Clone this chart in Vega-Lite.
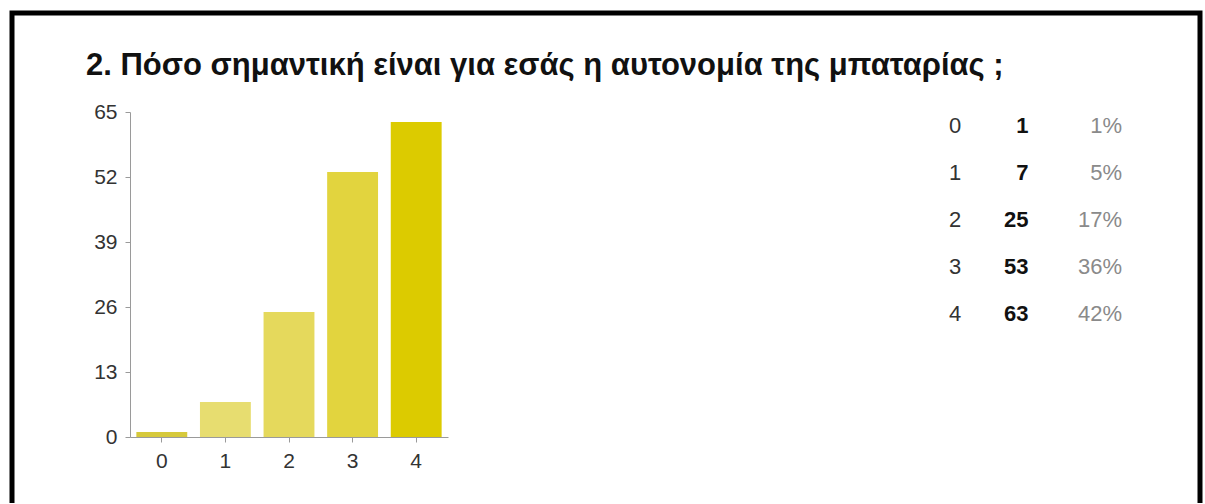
{
  "$schema": "https://vega.github.io/schema/vega-lite/v6.json",
  "autosize": "none",
  "width": 1188,
  "height": 500,
  "padding": {"left": 12, "top": 13, "right": 5, "bottom": -10},
  "background": "white",
  "config": {
    "font": "Liberation Sans",
    "view": {"stroke": "#000000", "strokeWidth": 5, "fill": "white"}
  },
  "title": {
    "text": "2. Πόσο σημαντική είναι για εσάς η αυτονομία της μπαταρίας ;",
    "anchor": "start",
    "frame": "group",
    "font": "Liberation Sans",
    "fontSize": 31,
    "fontWeight": "bold",
    "color": "#111111",
    "baseline": "alphabetic",
    "offset": -93,
    "dx": 74
  },
  "data": {
    "values": [
      {"answer": "0", "count": 1, "pct": "1%"},
      {"answer": "1", "count": 7, "pct": "5%"},
      {"answer": "2", "count": 25, "pct": "17%"},
      {"answer": "3", "count": 53, "pct": "36%"},
      {"answer": "4", "count": 63, "pct": "42%"}
    ]
  },
  "layer": [
    {
      "mark": {"type": "bar"},
      "encoding": {
        "x": {
          "field": "answer",
          "type": "ordinal",
          "scale": {"range": [118, 436], "paddingInner": 0.2, "paddingOuter": 0.1},
          "axis": {
            "title": null,
            "labelAngle": 0,
            "offset": -76,
            "domainColor": "#9a9a9a",
            "tickColor": "#9a9a9a",
            "tickSize": 5,
            "labelPadding": 8,
            "labelFontSize": 21,
            "labelColor": "#333333",
            "labelFont": "Liberation Sans"
          }
        },
        "y": {
          "field": "count",
          "type": "quantitative",
          "scale": {"domain": [0, 65], "range": [424, 99], "nice": false},
          "axis": {
            "title": null,
            "values": [0, 13, 26, 39, 52, 65],
            "grid": false,
            "offset": -118,
            "domainColor": "#9a9a9a",
            "tickColor": "#9a9a9a",
            "tickSize": 5,
            "labelPadding": 8,
            "labelFontSize": 21,
            "labelColor": "#333333",
            "labelFont": "Liberation Sans"
          }
        },
        "color": {
          "field": "answer",
          "type": "nominal",
          "scale": {
            "domain": ["0", "1", "2", "3", "4"],
            "range": ["#d6c93c", "#e7dd70", "#e5d95c", "#e2d43e", "#dccb00"]
          },
          "legend": null
        }
      }
    },
    {
      "encoding": {
        "y": {
          "field": "answer",
          "type": "ordinal",
          "scale": {"type": "point", "range": [113, 301], "padding": 0},
          "axis": null
        }
      },
      "layer": [
        {
          "mark": {"type": "text", "align": "left", "baseline": "middle", "fontSize": 22, "color": "#333333"},
          "encoding": {
            "x": {"datum": "answer", "type": "nominal", "scale": {"type": "point", "domain": ["answer", "count", "pct"], "range": [937, 1110], "padding": 0}, "axis": null},
            "text": {"field": "answer"}
          }
        },
        {
          "mark": {"type": "text", "align": "right", "baseline": "middle", "fontSize": 22, "fontWeight": "bold", "color": "#111111", "dx": -7},
          "encoding": {
            "x": {"datum": "count", "type": "nominal"},
            "text": {"field": "count"}
          }
        },
        {
          "mark": {"type": "text", "align": "right", "baseline": "middle", "fontSize": 22, "color": "#8a8a8a"},
          "encoding": {
            "x": {"datum": "pct", "type": "nominal"},
            "text": {"field": "pct"}
          }
        }
      ]
    }
  ],
  "resolve": {"scale": {"x": "independent", "y": "independent", "color": "independent"}, "axis": {"x": "independent", "y": "independent"}}
}
